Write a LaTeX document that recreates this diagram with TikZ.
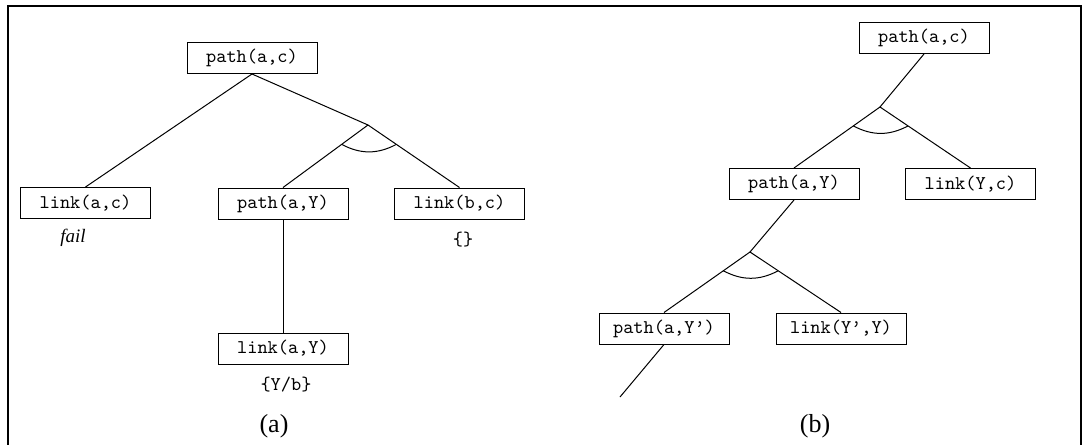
\documentclass[tikz,border=0pt]{standalone}
\usepackage{fontspec}
\setmainfont{Liberation Serif}
\usepackage{tikz}
\usetikzlibrary{positioning,calc}
\tikzset{GOAL/.style={rectangle,minimum width=65pt,minimum height=15.5pt,inner sep=0pt,draw,line width=0.5pt,font=\fontsize{9.7}{11}\ttfamily}}
\tikzset{EDGE/.style={line width=0.5pt}}
\tikzset{ANDARC/.style={line width=0.5pt, bend right=28}}
\tikzset{NOTE/.style={inner sep=0pt,font=\fontsize{9.7}{11}\ttfamily}}
\tikzset{CAPTION/.style={inner sep=0pt,font=\fontsize{13}{15}\selectfont}}
\tikzset{FRAME/.style={line width=1.4pt}}

\begin{document}
\begin{tikzpicture}[x=0.5pt,y=-0.5pt]
\useasboundingbox (0,0) rectangle (1089,445);
\draw[FRAME] (8,450) -- (8,6) -- (1081,6) -- (1081,450);

% (a)
\node[GOAL] (n_path_ac) at (252,58) {path(a,c)};
\coordinate (c_and_a) at (368,125);
\node[GOAL] (n_link_ac) at (85.5,203) {link(a,c)};
\node[GOAL] (n_path_aY) at (283,203.5) {path(a,Y)};
\node[GOAL] (n_link_bc) at (459.5,203.5) {link(b,c)};
\node[GOAL] (n_link_aY) at ($(n_path_aY)+(0,145)$) {link(a,Y)};

\draw[EDGE] (n_path_ac.south) -- (n_link_ac.north);
\draw[EDGE] (n_path_ac.south) -- (c_and_a);
\draw[EDGE] (c_and_a) -- (n_path_aY.north);
\draw[EDGE] (c_and_a) -- (n_link_bc.north);
\draw[ANDARC] ($(c_and_a)!0.31!(n_path_aY.north)$) to ($(c_and_a)!0.31!(n_link_bc.north)$);
\draw[EDGE] (n_path_aY.south) -- (n_link_aY.north);

\node[inner sep=0pt,font=\fontsize{9.5}{11}\itshape] (n_fail) at (73,238) {fail};
\node[NOTE] (n_empty) at (463,240) {\{\}};
\node[NOTE] (n_subst) at (286,385) {\{Y/b\}};
\node[CAPTION] (n_cap_a) at (274,426) {(a)};

% (b)
\node[GOAL] (n_path_ac_b) at (924,38) {path(a,c)};
\coordinate (c_and_b) at (880,107);
\node[GOAL] (n_path_aY_b) at (794,184) {path(a,Y)};
\node[GOAL] (n_link_Yc) at (970.5,184) {link(Y,c)};
\coordinate (c_and_c) at (750,252);
\node[GOAL] (n_path_aY2) at (664,328.5) {path(a,Y’)};
\node[GOAL] (n_link_Y2Y) at (841,328.5) {link(Y’,Y)};
\coordinate (c_open) at (620,397);

\draw[EDGE] (n_path_ac_b.south) -- (c_and_b);
\draw[EDGE] (c_and_b) -- (n_path_aY_b.north);
\draw[EDGE] (c_and_b) -- (n_link_Yc.north);
\draw[ANDARC] ($(c_and_b)!0.31!(n_path_aY_b.north)$) to ($(c_and_b)!0.31!(n_link_Yc.north)$);
\draw[EDGE] (n_path_aY_b.south) -- (c_and_c);
\draw[EDGE] (c_and_c) -- (n_path_aY2.north);
\draw[EDGE] (c_and_c) -- (n_link_Y2Y.north);
\draw[ANDARC] ($(c_and_c)!0.31!(n_path_aY2.north)$) to ($(c_and_c)!0.31!(n_link_Y2Y.north)$);
\draw[EDGE] (n_path_aY2.south) -- (c_open);

\node[CAPTION] (n_cap_b) at (815,426) {(b)};

\end{tikzpicture}
\end{document}
